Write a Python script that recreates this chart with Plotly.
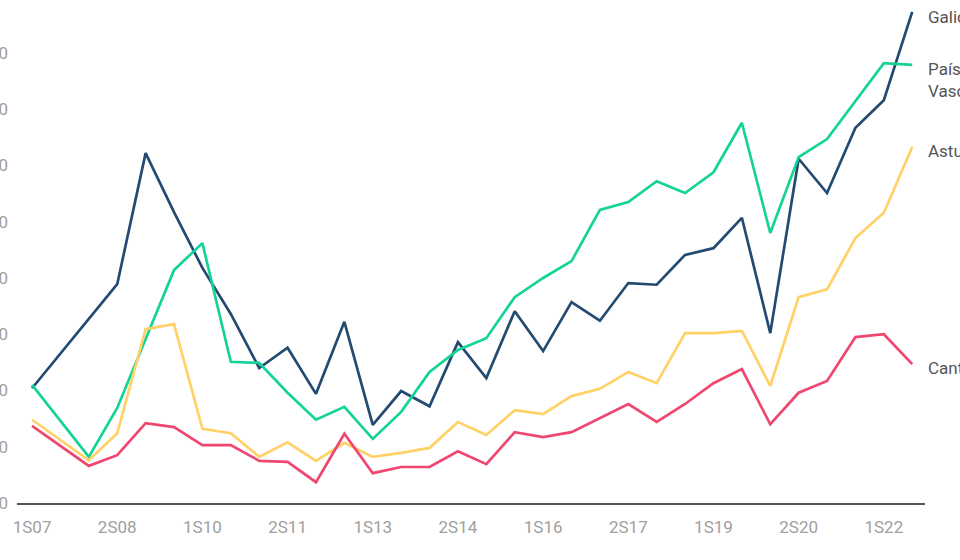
import plotly.graph_objects as go

semesters = [f"{h}S{y:02d}" for y in range(7, 23) for h in (1, 2)]

galicia = [20.4, None, None, 38.9, 62.2, 51.7, 41.8, 33.6, 24.0, 27.6, 19.4, 32.2, 13.9, 19.9, 17.2, 28.6,
           22.2, 34.1, 27.0, 35.7, 32.4, 39.1, 38.8, 44.1, 45.3, 50.7, 30.2, 61.2, 55.1, 66.7, 71.6, 87.3]
pais_vasco = [21.0, None, 8.2, 16.9, 29.2, 41.4, 46.2, 25.1, 24.9, 19.6, 14.8, 17.1, 11.4, 16.2, 23.3, 27.2,
              29.3, 36.6, 40.0, 43.0, 52.1, 53.5, 57.2, 55.1, 58.8, 67.6, 48.0, 61.5, 64.7, 71.5, 78.2, 77.9]
asturias = [14.8, None, 7.6, 12.4, 30.9, 31.8, 13.2, 12.4, 8.2, 10.8, 7.5, 10.7, 8.2, 8.9, 9.8, 14.4,
            12.1, 16.5, 15.8, 19.0, 20.3, 23.3, 21.3, 30.2, 30.2, 30.6, 20.8, 36.6, 38.0, 47.1, 51.6, 63.3]
cantabria = [13.7, None, 6.6, 8.5, 14.2, 13.5, 10.3, 10.3, 7.5, 7.3, 3.7, 12.3, 5.3, 6.4, 6.4, 9.2,
             6.9, 12.6, 11.7, 12.6, 15.1, 17.6, 14.4, 17.6, 21.3, 23.8, 14.0, 19.6, 21.7, 29.5, 30.0, 24.7]

series_names = ["Galicia", "País Vasco", "Asturias", "Cantabria"]
series_labels = ["Galicia", "País<br>Vasco", "Asturias", "Cantabria"]
series_values = [galicia, pais_vasco, asturias, cantabria]
series_colors = ["#234b72", "#14d396", "#ffd166", "#ef476f"]
label_yshift = [-5, -15, -4, -4]

y_ticks = [0, 10, 20, 30, 40, 50, 60, 70, 80]
x_tick_idx = list(range(0, len(semesters), 3))

x = list(range(len(semesters)))

fig = go.Figure()
for name, vals, col in zip(series_names, series_values, series_colors):
    fig.add_trace(go.Scatter(x=x, y=vals, mode="lines", name=name, connectgaps=True,
                             line=dict(color=col, width=2.7), hoverinfo="skip"))

for lab, vals, ys in zip(series_labels, series_values, label_yshift):
    fig.add_annotation(x=x[-1], y=vals[-1], xref="x", yref="y", text=lab, showarrow=False,
                       xanchor="left", yanchor="middle", xshift=14, yshift=ys, align="left",
                       font=dict(family="Roboto", size=17, color="#555555"))

fig.update_layout(
    width=960, height=560,
    margin=dict(l=17, r=35, t=5, b=57, autoexpand=False),
    paper_bgcolor="white", plot_bgcolor="white",
    showlegend=False,
    font=dict(family="Roboto", size=17, color="#a0a0a0"),
)
fig.update_xaxes(range=[-0.53, 31.45], tickvals=[x[i] for i in x_tick_idx],
                 ticktext=[semesters[i] for i in x_tick_idx], automargin=False,
                 showgrid=False, zeroline=False, showline=True, linecolor="#555555", linewidth=1.5,
                 ticks="", ticklabelstandoff=8, tickfont=dict(color="#a0a0a0", size=17))
fig.update_yaxes(range=[0, 88.53], tickvals=y_ticks, showgrid=False, zeroline=False, showline=False,
                 automargin=False,
                 ticks="", ticklabelstandoff=8, tickfont=dict(color="#a0a0a0", size=17))

fig.write_html("out.html", config={"displayModeBar": False},
               post_script="document.body.style.margin='0';document.body.style.overflow='hidden';")
